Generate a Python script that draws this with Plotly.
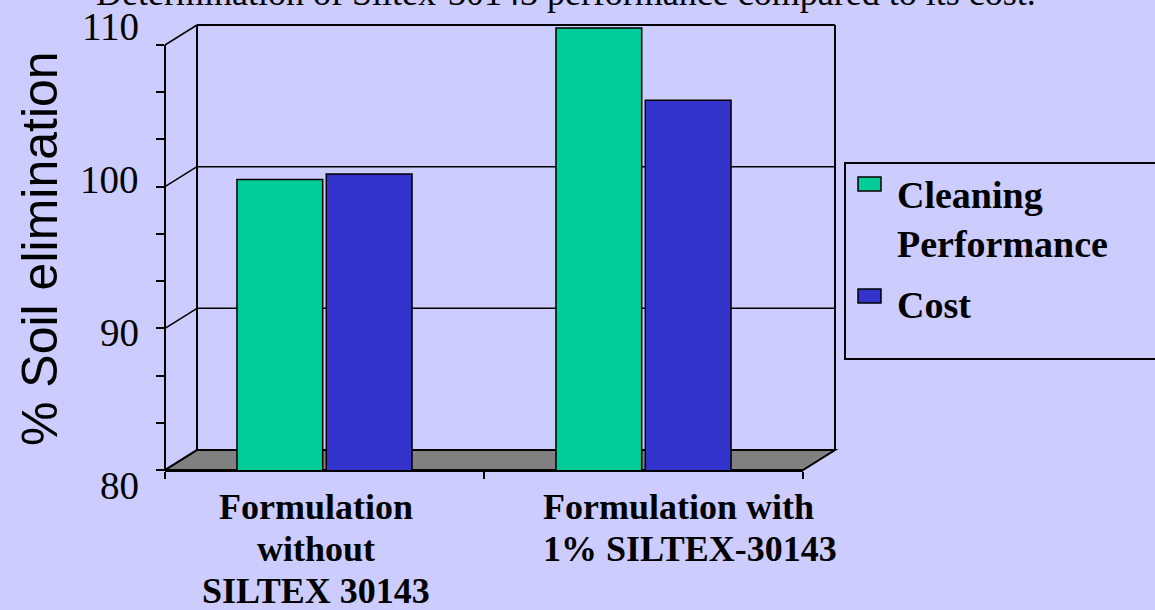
import plotly.graph_objects as go

# ---------------- data ----------------
categories = ["Formulation<br>without<br>SILTEX 30143", "Formulation with<br>1% SILTEX-30143"]
series_names = ["Cleaning<br>Performance", "Cost"]
cleaning_performance = [100.5, 111.2]
cost = [100.9, 106.1]
series_values = [cleaning_performance, cost]
series_colors = ["#00CC99", "#3333CC"]
major_ticks = [80, 90, 100, 110]
title_text = "Determination of Siltex-30143 performance compared to its cost."
y_title = "% Soil elimination"

# ---------------- geometry ----------------
W, H = 1155, 610
L, R, T, B = 165, 803, 20, 470          # plot area in pixels
PW, PH = R - L, B - T
YMIN, YTOP = 80, 110
PXU = (B - 45) / (YTOP - YMIN)          # pixels per unit
YMAX = YMIN + PH / PXU
DX, DY = 32, 20                          # 3-D depth offset (px)
BG = "#CCCCFF"
SERIF = "Liberation Serif"


def fx(px):
    return (px - L) / PW


def fy(py):
    return (B - py) / PH


def v2py(v):
    return B - (v - YMIN) * PXU


fig = go.Figure()
for name, vals, col in zip(series_names, series_values, series_colors):
    fig.add_trace(go.Bar(
        x=categories, y=vals, name=name.replace("<br>", " "),
        marker=dict(color=col, line=dict(color="black", width=1.5)),
        showlegend=False,
    ))

shapes = []
line = dict(color="black", width=2)
# floor
fx0, fx1 = fx(L), fx(L + DX)
fxr0, fxr1 = fx(R), fx(R + DX)
shapes.append(dict(
    type="path", xref="paper", yref="paper", layer="below",
    path=f"M {fx0} {fy(B)} L {fx1} {fy(B-DY)} L {fxr1} {fy(B-DY)} L {fxr0} {fy(B)} Z",
    fillcolor="#808080", line=line))
top_back = v2py(YTOP) - DY
# back wall verticals & top
shapes.append(dict(type="line", xref="paper", yref="paper", layer="below",
                   x0=fx1, x1=fx1, y0=fy(B - DY), y1=fy(top_back), line=line))
shapes.append(dict(type="line", xref="paper", yref="paper", layer="below",
                   x0=fxr1, x1=fxr1, y0=fy(B - DY), y1=fy(top_back), line=line))
shapes.append(dict(type="line", xref="paper", yref="paper", layer="below",
                   x0=fx1, x1=fxr1, y0=fy(top_back), y1=fy(top_back), line=line))
# back gridlines and side diagonals
for v in major_ticks:
    py = v2py(v)
    if YMIN < v < YTOP:
        shapes.append(dict(type="line", xref="paper", yref="paper", layer="below",
                           x0=fx1, x1=fxr1, y0=fy(py - DY), y1=fy(py - DY),
                           line=dict(color="black", width=1.5)))
    shapes.append(dict(type="line", xref="paper", yref="paper", layer="below",
                       x0=fx0, x1=fx1, y0=fy(py), y1=fy(py - DY),
                       line=dict(color="black", width=1.5)))
# front vertical axis
shapes.append(dict(type="line", xref="paper", yref="paper",
                   x0=fx0, x1=fx0, y0=fy(v2py(YMIN)), y1=fy(v2py(YTOP)), line=line))

# legend (custom)
shapes.append(dict(type="rect", xref="paper", yref="paper",
                   x0=fx(845), x1=fx(1170), y0=fy(163), y1=fy(359),
                   line=line, fillcolor="rgba(0,0,0,0)"))
annotations = []
legend_rows = [(177, 207), (289, 317)]
for (sw_top, base), name, col in zip(legend_rows, series_names, series_colors):
    shapes.append(dict(type="rect", xref="paper", yref="paper",
                       x0=fx(858), x1=fx(881), y0=fy(sw_top), y1=fy(sw_top + 14),
                       line=dict(color="black", width=1.5), fillcolor=col))
    annotations.append(dict(
        text=name, xref="paper", yref="paper", x=fx(895), y=fy(base - 0.891 * 38 - 1),
        xanchor="left", yanchor="top", align="left", showarrow=False,
        font=dict(family=SERIF, size=38, color="black", weight="bold")))

# y tick labels
for v in major_ticks:
    annotations.append(dict(
        text=str(v), xref="paper", yref="y", x=fx(141), y=v,
        yshift=(v - YMIN) * 1.133 - 15,
        xanchor="right", yanchor="middle", showarrow=False,
        font=dict(family=SERIF, size=39, color="black")))

# category labels (one annotation per wrapped line, Excel-like tight spacing)
CAT_SIZE = 36
LINE_GAP = 42
cat_layout = [dict(xanchor="center", align="center", xshift=316 - (L + PW * 0.25)),
              dict(xanchor="left", align="left", xshift=541 - (L + PW * 0.75))]
for cat, cl in zip(categories, cat_layout):
    for i, part in enumerate(cat.split("<br>")):
        base = 518 + i * LINE_GAP
        annotations.append(dict(
            text=part, xref="x", yref="paper", x=cat, y=fy(base - 0.891 * CAT_SIZE - 1),
            yanchor="top", showarrow=False,
            font=dict(family=SERIF, size=CAT_SIZE, color="black", weight="bold"),
            **cl))

# y-axis title
annotations.append(dict(
    text=y_title, xref="paper", yref="paper", x=fx(40), y=fy(249),
    xanchor="center", yanchor="middle", textangle=-90, showarrow=False,
    font=dict(family="Liberation Sans", size=50, color="black")))

# chart title (cut off at top)
annotations.append(dict(
    text=title_text, xref="paper", yref="paper", x=fx(566), y=fy(5 - 0.3375 * 36),
    xanchor="center", yanchor="middle", showarrow=False,
    font=dict(family=SERIF, size=36, color="black")))

minor_ticks = [YMIN + i * 10 / 3 for i in range(10)]

fig.update_layout(
    width=W, height=H,
    margin=dict(l=L, r=W - R, t=T, b=H - B, pad=0),
    paper_bgcolor=BG, plot_bgcolor=BG,
    barmode="group", bargap=0.44, bargroupgap=0.04,
    shapes=shapes, annotations=annotations,
    xaxis=dict(type="category", range=[-0.5, 1.5], showgrid=False, zeroline=False,
               showline=True, linecolor="black", linewidth=2,
               ticks="outside", tickson="boundaries", ticklen=7, tickwidth=1.5,
               tickcolor="black", showticklabels=False, fixedrange=True),
    yaxis=dict(range=[YMIN, YMAX], showgrid=False, zeroline=False, showline=False,
               tickmode="array", tickvals=minor_ticks, ticks="outside", ticklen=8,
               tickwidth=1.5, tickcolor="black", showticklabels=False, fixedrange=True),
)

fig.write_html(
    "out.html",
    config={"displayModeBar": False},
    post_script="document.body.style.margin='0';document.body.style.overflow='hidden';"
                f"document.body.style.background='{BG}';",
)
